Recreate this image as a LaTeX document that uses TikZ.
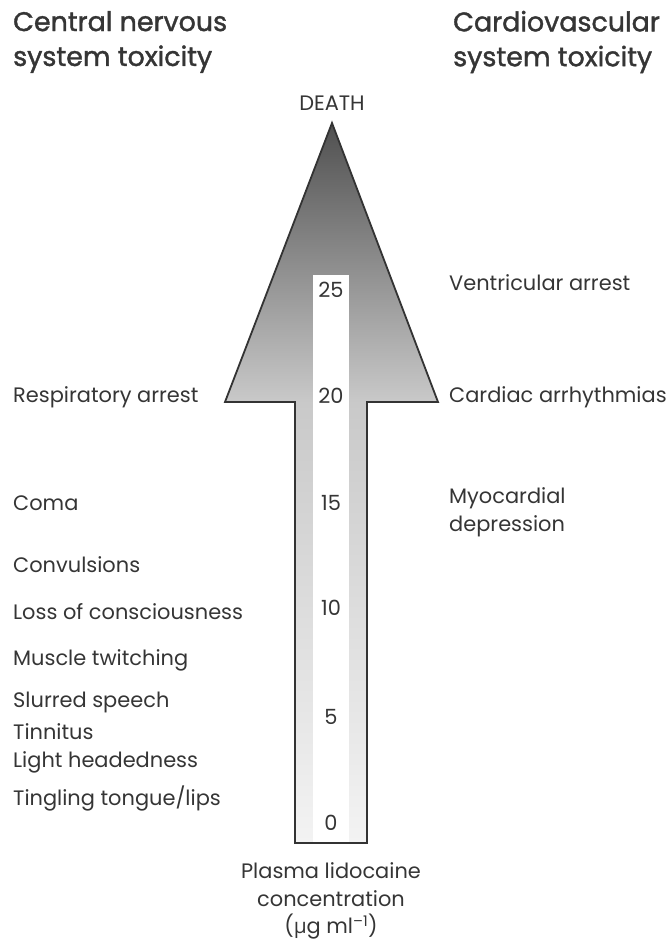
\documentclass[tikz,border=0pt]{standalone}
\usepackage{fontspec}
\setmainfont{Poppins}
\newfontfamily\headfont[FakeBold=1.4]{Poppins}
\newfontfamily\mufont{Open Sans}
\usepackage{tikz}
\usetikzlibrary{positioning}
\definecolor{inkgray}{HTML}{353535}
\definecolor{edgegray}{HTML}{333333}
\definecolor{shadetop}{HTML}{505050}
\definecolor{shadebase}{HTML}{C9C9C9}
\definecolor{shadelow}{HTML}{F3F3F3}
\pgfdeclareverticalshading{arrowfade}{100bp}{color(0bp)=(shadelow); color(25bp)=(shadelow); color(55.6bp)=(shadebase); color(75bp)=(shadetop); color(100bp)=(shadetop)}

\begin{document}
\begin{tikzpicture}[
  x=1bp, y=-1bp,
  txt/.style={inner sep=0pt, text=inkgray, font=\fontsize{21}{28}\selectfont},
  sym/.style={txt, anchor=west, align=left},
  head/.style={inner sep=0pt, text=inkgray, anchor=west, align=left, font=\headfont\fontsize{27}{35}\selectfont},
  num/.style={txt}
]
\useasboundingbox (0,0) rectangle (669,942);

\path[shading=arrowfade] (332,123) -- (438,402) -- (367,402) -- (367,843) -- (295,843) -- (295,402) -- (225,402) -- cycle;
\fill[white] (313,275) rectangle (349,842);
\draw[draw=edgegray, line width=1.8bp, line join=miter] (332,123) -- (438,402) -- (367,402) -- (367,843) -- (295,843) -- (295,402) -- (225,402) -- cycle;

\node[head] (hdCNS) at (13,42) {Central nervous\\system toxicity};
\node[head] (hdCVS) at (453,42) {Cardiovascular\\system toxicity};
\node[txt] (death) at (332,103) {DEATH};

\foreach \v/\y in {0/823, 5/717, 10/608, 15/503, 20/396, 25/290}
  \node[num] (n\v) at (331,\y) {\v};

\node[sym] (respArrest) at (13,397) {Respiratory arrest};
\node[sym] (coma) at (13,503) {Coma};
\node[sym] (convuls) at (13,565) {Convulsions};
\node[sym] (lossCons) at (13,612) {Loss of consciousness};
\node[sym] (twitch) at (13,660) {Muscle twitching};
\node[sym] (slurred) at (13,702) {Slurred speech};
\node[sym] (tinnitus) at (13,732) {Tinnitus};
\node[sym] (lightHead) at (13,762) {Light headedness};
\node[sym] (tingling) at (13,798) {Tingling tongue/lips};

\node[sym] (ventArrest) at (449,283) {Ventricular arrest};
\node[sym] (arrhythm) at (449,397) {Cardiac arrhythmias};
\node[sym] (myoDep) at (449,512) {Myocardial\\depression};

\coordinate (shaftBot) at (331,843);
\node[txt, align=center, below=19bp of shaftBot] (plasma) {Plasma lidocaine\\concentration\\({\mufont µ}g ml\textsuperscript{–1})};
\end{tikzpicture}
\end{document}
